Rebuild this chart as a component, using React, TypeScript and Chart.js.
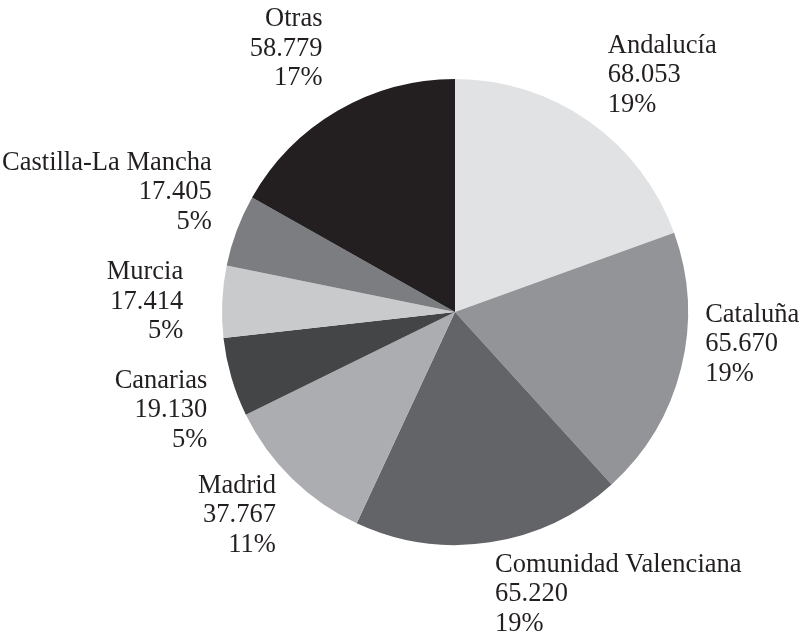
import React, { useEffect, useRef } from "react";
import { Chart, registerables } from "chart.js";

Chart.register(...registerables);

const categories = [
  "Andalucía",
  "Cataluña",
  "Comunidad Valenciana",
  "Madrid",
  "Canarias",
  "Murcia",
  "Castilla-La Mancha",
  "Otras",
];
const values = [68053, 65670, 65220, 37767, 19130, 17414, 17405, 58779];
const sliceColors = [
  "#e1e2e4",
  "#939497",
  "#636467",
  "#acadb0",
  "#444547",
  "#c9cacc",
  "#7c7d81",
  "#231f20",
];

// label placement relative to the slice's outer mid point
const labelLayout = [
  { align: "left", dx: 19, dy: -46 },
  { align: "left", dx: 24, dy: -24 },
  { align: "left", dx: 5, dy: 52 },
  { align: "right", dx: -16, dy: 37 },
  { align: "right", dx: -24, dy: 33 },
  { align: "right", dx: -39, dy: 0 },
  { align: "right", dx: -25, dy: -38 },
  { align: "right", dx: -15, dy: -62 },
];

const fmt = (v: number) => String(v).replace(/\B(?=(\d{3})+(?!\d))/g, ".");

const labelPlugin = {
  id: "outerLabels",
  afterDatasetsDraw(chart: any) {
    const ctx = chart.ctx;
    const meta = chart.getDatasetMeta(0);
    const data = chart.data.datasets[0].data as number[];
    const total = data.reduce((a, b) => a + b, 0);
    ctx.save();
    ctx.fillStyle = "#231f20";
    ctx.font = '26.5px "Liberation Serif", "Times New Roman", serif';
    ctx.textBaseline = "middle";
    const lh = 29.5;
    meta.data.forEach((arc: any, i: number) => {
      const p = arc.getProps(["x", "y", "startAngle", "endAngle", "outerRadius"], true);
      const mid = (p.startAngle + p.endAngle) / 2;
      const px = p.x + Math.cos(mid) * p.outerRadius;
      const py = p.y + Math.sin(mid) * p.outerRadius;
      const lay = labelLayout[i];
      const lines = [
        chart.data.labels[i] as string,
        fmt(data[i]),
        Math.round((data[i] / total) * 100) + "%",
      ];
      ctx.textAlign = lay.align;
      const cx = px + lay.dx;
      const cy = py + lay.dy;
      lines.forEach((t, k) => {
        ctx.fillText(t, cx, cy + (k - 1) * lh);
      });
    });
    ctx.restore();
  },
};

export default function App() {
  const ref = useRef<HTMLCanvasElement | null>(null);
  useEffect(() => {
    if (!ref.current) return;
    const chart = new Chart(ref.current, {
      type: "pie",
      data: {
        labels: categories,
        datasets: [
          {
            data: values,
            backgroundColor: sliceColors,
            borderWidth: 0,
            hoverOffset: 0,
          },
        ],
      },
      options: {
        responsive: false,
        animation: false,
        layout: { padding: { left: 222, right: 112, top: 79, bottom: 97 } },
        plugins: {
          legend: { display: false },
          tooltip: { enabled: false },
        },
      },
      plugins: [labelPlugin],
    });
    return () => chart.destroy();
  }, []);
  return (
    <div style={{ position: "fixed", left: 0, top: 0, width: 800, height: 642, background: "#fff" }}>
      <canvas ref={ref} width={800} height={642} style={{ display: "block", width: 800, height: 642 }} />
    </div>
  );
}
